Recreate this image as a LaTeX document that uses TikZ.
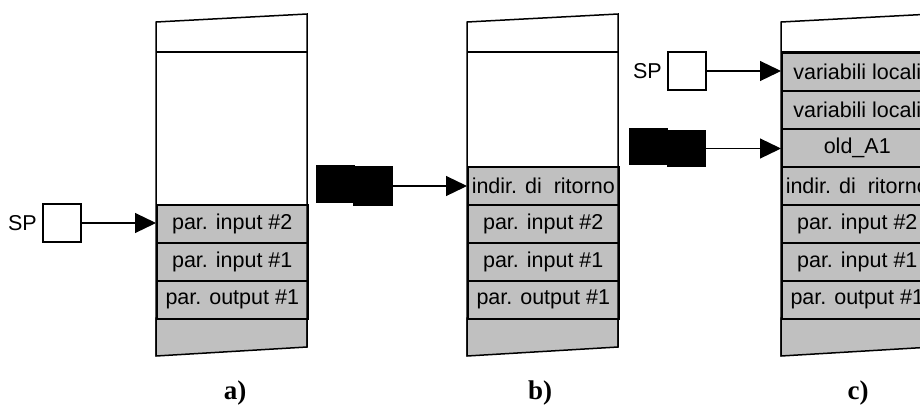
\documentclass[tikz,border=0pt]{standalone}
\usepackage{fontspec}
\setmainfont{Liberation Serif}
\newfontfamily\cellfont{Liberation Sans}
\usetikzlibrary{arrows.meta}
\definecolor{cellgray}{RGB}{192,192,192}
\begin{document}
\begin{tikzpicture}[x=1pt,y=-1pt,
  frame/.style={line width=1.5pt, line join=miter},
  cell/.style={draw, line width=1.5pt, fill=cellgray, minimum width=151pt, minimum height=38pt,
    inner sep=0pt, font=\cellfont\fontsize{21.5}{24}\selectfont, anchor=north west},
  ptr/.style={draw, line width=1.2pt, fill=white, minimum width=38pt, minimum height=38pt, inner sep=0pt},
  ptrlabel/.style={inner sep=0pt, font=\cellfont\fontsize{21.5}{24}\selectfont},
  conn/.style={line width=1.2pt, -{Triangle[length=21pt,width=20pt]}, shorten >=0pt},
  redact/.style={fill=black, inner sep=0pt},
  caplabel/.style={inner sep=0pt, font=\fontsize{27}{30}\selectfont\bfseries}
]
\useasboundingbox (0,0) rectangle (920,405);
\clip (0,0) rectangle (920,405);

% ---------- stack a ----------
\filldraw[frame, fill=cellgray] (156,318) -- (156,356) -- (307,347) -- (307,318) -- cycle;
\node[cell] (a1) at (156,204) {par. input \#2};
\node[cell] (a2) at (156,242) {par. input \#1};
\node[cell] (a3) at (156,280) {par. output \#1};
\draw[frame] (156,356) -- (156,22) -- (307,14) -- (307,347);
\draw[frame] (156,52) -- (307,52);
\node[ptr] (spa) at (62,223) {};
\node[ptrlabel, anchor=east] (spalab) at (37,223) {SP};
\draw[conn] (spa.east) -- (spa.east -| a1.west);
\node[caplabel] (la) at (235,393) {a)};

% ---------- stack b ----------
\filldraw[frame, fill=cellgray] (467,318) -- (467,356) -- (618,347) -- (618,318) -- cycle;
\node[cell] (b1) at (467,166) {indir. di\ \ ritorno};
\node[cell] (b2) at (467,204) {par. input \#2};
\node[cell] (b3) at (467,242) {par. input \#1};
\node[cell] (b4) at (467,280) {par. output \#1};
\draw[frame] (467,356) -- (467,22) -- (618,14) -- (618,347);
\draw[frame] (467,52) -- (618,52);
\node[redact, minimum width=39pt, minimum height=38pt] (rb1) at (335.5,184) {};
\node[redact, minimum width=40pt, minimum height=40pt] (rb2) at (373,186) {};
\draw[conn] (rb2.east) -- (rb2.east -| b1.west);
\node[caplabel] (lb) at (540,393) {b)};

% ---------- stack c ----------
\filldraw[frame, fill=cellgray] (781,318) -- (781,356) -- (932,347) -- (932,318) -- cycle;
\node[cell] (c1) at (781,52) {variabili locali};
\node[cell] (c2) at (781,90) {variabili locali};
\node[cell] (c3) at (781,128) {old\_A1};
\node[cell] (c4) at (781,166) {indir. di\ \ ritorno};
\node[cell] (c5) at (781,204) {par. input \#2};
\node[cell] (c6) at (781,242) {par. input \#1};
\node[cell] (c7) at (781,280) {par. output \#1};
\draw[frame] (781,356) -- (781,22) -- (932,14) -- (932,347);
\draw[frame] (781,52) -- (932,52);
\node[ptr] (spc) at (687,71) {};
\node[ptrlabel, anchor=east] (spclab) at (662,71) {SP};
\draw[conn] (spc.east) -- (spc.east -| c1.west);
\node[redact, minimum width=39pt, minimum height=37pt] (rc1) at (648.5,146.5) {};
\node[redact, minimum width=39pt, minimum height=37pt] (rc2) at (686.5,148.5) {};
\draw[conn] (rc2.east) -- (rc2.east -| c3.west);
\node[caplabel] (lc) at (858,393) {c)};
\end{tikzpicture}
\end{document}
